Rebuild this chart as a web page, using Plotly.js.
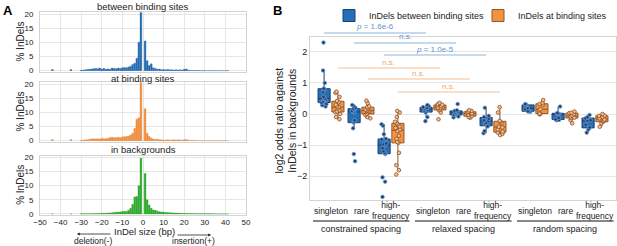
<!DOCTYPE html>
<html><head><meta charset="utf-8">
<script src="https://cdn.plot.ly/plotly-3.0.1.min.js"></script>
<style>html,body{margin:0;padding:0;background:#fff}#chart{width:617px;height:246px}</style>
</head><body><div id="chart"></div>
<script>
// ---------------- Panel A data ----------------
const indelSizes = [-44,-35,
  -30,-29,-28,-27,-26,-25,-24,-23,-22,-21,
  -20,-19,-18,-17,-16,-15,-14,-13,-12,-11,
  -10,-9,-8,-7,-6,-5,-4,-3,-2,-1,
  1,2,3,4,5,6,7,8,9,10,
  11,12,13,14,15,16,17,18,19,20,
  21,22,23,24,25,26,27,28,29,30,
  31,32,33,34,35,36,37,38,39,40,41];
const pctBetween = [0.4,0.4,
  0.15,0.2,0.3,0.4,0.5,0.6,0.7,0.8,0.7,0.9,
  0.6,0.8,0.5,0.6,0.5,0.9,0.8,0.7,0.9,0.8,
  1.0,1.1,1.0,1.3,1.6,2.2,2.6,4.4,10.0,20.6,
  10.5,3.5,1.8,2.4,1.0,0.8,0.5,0.6,0.3,0.4,
  0.3,0.4,0.3,0.3,0.2,0.3,0.2,0.3,0.2,0.5,
  0.6,0.2,0.1,0.1,0.05,0.05,0.05,0,0.05,0,
  0,0,0,0,0,0,0,0,0,0,0.1];
const pctAtSites = [0.4,0.4,
  0.1,0.2,0.3,0.3,0.5,0.6,0.7,0.6,0.7,0.6,
  0.8,0.7,0.7,0.8,1.1,1.2,1.0,1.1,1.2,1.0,
  1.3,1.4,1.5,1.6,2.0,2.6,4.3,7.6,8.1,20.6,
  11.3,2.6,1.5,0.9,0.6,0.4,0.5,0.3,0.3,0.2,
  0.2,0.3,0.2,0.2,0.3,0.2,0.3,0.2,0.2,0.3,
  0.4,0.2,0.1,0.1,0.05,0.05,0,0,0,0,
  0,0,0,0,0,0,0,0,0,0,0];
const pctBackground = [0,0,
  0.05,0.05,0.06,0.07,0.08,0.1,0.12,0.14,0.16,0.2,
  0.22,0.25,0.28,0.3,0.35,0.4,0.5,0.6,0.7,0.7,
  0.9,1.0,0.9,1.3,2.0,3.4,6.0,6.2,10.0,19.7,
  14.3,5.0,3.2,2.0,1.4,1.3,1.0,0.8,0.7,0.7,
  0.5,0.5,0.4,0.4,0.35,0.3,0.3,0.25,0.2,0.2,
  0.2,0.18,0.15,0.15,0.12,0.1,0.1,0.08,0.08,0.07,
  0.06,0.05,0.05,0.04,0.03,0.03,0.02,0.02,0.02,0.01,0.01];
const panelATitles = ['between binding sites','at binding sites','in backgrounds'];
const sizeTicks = [-50,-40,-30,-20,-10,0,10,20,30,40,50];
const pctTicks = [0,5,10,15,20];

// ---------------- Panel B data ----------------
const frequencyClasses = ['singleton','rare','high-<br>frequency'];
const spacingGroups = ['constrained spacing','relaxed spacing','random spacing'];
const seriesNames = ['InDels between binding sites','InDels at binding sites'];
const oddsTicks = [-2,-1,0,1,2];
// one list per (spacing group, frequency class), in order
const betweenRatios = [
  [2.3,1.4,1.0,0.82,0.8,0.7,0.55,0.5,0.48,0.45,0.4,0.36,0.32,0.28,0.24],
  [0.29,0.25,0.2,0.17,0.14,0.1,0.08,0.05,-0.2,-0.25,-0.28,-0.46,-1.29,-1.52],
  [-0.33,-0.38,-0.65,-0.8,-0.82,-0.95,-0.98,-1.0,-1.1,-1.2,-1.25,-1.29,-2.04,-2.18,-2.67],
  [0.29,0.25,0.22,0.2,0.18,0.15,0.12,0.1,0.05,-0.1,-0.23],
  [0.32,0.12,0.1,0.08,0.05,0.03,0.0,-0.03,-0.08,-0.11],
  [0.2,-0.06,-0.1,-0.15,-0.2,-0.23,-0.28,-0.32,-0.4,-0.55,-0.62],
  [0.32,0.3,0.29,0.25,0.19,0.15,0.09,0.08,0.07],
  [0.24,0.03,0.02,0.01,0.0,-0.12,-0.17,-0.19,-0.2],
  [-0.03,-0.1,-0.14,-0.2,-0.22,-0.35,-0.43,-0.5,-0.6]
];
const atSitesRatios = [
  [0.72,0.68,0.55,0.42,0.38,0.3,0.25,0.22,0.18,0.12,0.08,0.06,0.0,-0.1,-0.17],
  [0.43,0.35,0.25,0.22,0.18,0.14,0.12,0.1,0.08,0.05,0.0,-0.03,-0.1,-0.14],
  [0.1,0.05,-0.1,-0.25,-0.3,-0.33,-0.4,-0.45,-0.5,-0.55,-0.7,-0.8,-0.9,-0.93,-1.25,-1.65,-1.81,-1.95],
  [0.36,0.32,0.3,0.28,0.25,0.22,0.2,0.18,0.14,0.12,0.05,-0.17],
  [0.12,0.1,0.07,0.05,0.02,0.0,-0.03,-0.07,-0.1,-0.12],
  [0.22,0.05,-0.22,-0.25,-0.3,-0.41,-0.43,-0.5,-0.57,-0.6,-0.68,-0.64],
  [0.45,0.36,0.32,0.3,0.15,0.12,0.02,0.0,-0.01],
  [0.08,0.04,0.03,0.0,-0.05,-0.08,-0.12,-0.13,-0.2,-0.3],
  [0.0,-0.05,-0.06,-0.1,-0.14,-0.18,-0.22,-0.25,-0.3,-0.41]
];
// significance comparisons: series index, from box index, to box index, label
const comparisonSeries = [0,0,0,1,1,1];
const comparisonFrom = [0,1,2,0,1,2];
const comparisonTo = [3,4,5,3,4,5];
const comparisonLabels = ['<i>p</i> = 1.6e-6','n.s.','<i>p</i> = 1.0e-5','n.s.','n.s.','n.s.'];

// ---------------- layout helpers ----------------
const W = 617, H = 246;
const FONT = 'Liberation Sans, Arial, Helvetica, sans-serif';
const px = v => v / W;
const py = v => 1 - v / H;
const groupStep = 3.4;   // spacing between spacing groups (in category units)
const boxGap = 0.08, boxGroupGap = 0.12;
const offset = 0.5 * (1 - boxGap) / 2;
const catPos = [];
spacingGroups.forEach((g, gi) => frequencyClasses.forEach((c, ci) => catPos.push(gi * groupStep + ci)));

const blue = '#2470b8', orange = '#f5923e', green = '#2fb02f';
const gridC = '#e6e6e6', frameC = '#d4d4d4', textC = '#222';

const traces = [];
const histSeries = [pctBetween, pctAtSites, pctBackground];
const histColors = [blue, orange, green];
const histLines = ['#1c5a99', '#d9782a', '#23911f'];
histSeries.forEach((vals, i) => {
  traces.push({
    type: 'bar', x: indelSizes, y: vals,
    xaxis: i === 0 ? 'x' : 'x' + (i + 1), yaxis: i === 0 ? 'y' : 'y' + (i + 1),
    marker: {color: histColors[i], line: {color: histLines[i], width: 0.3}},
    showlegend: false, hoverinfo: 'skip'
  });
});

function boxTrace(groups, name, fill, lineC, mFill, mLine, legendId) {
  const x = [], y = [];
  groups.forEach((arr, i) => arr.forEach(v => { x.push(catPos[i]); y.push(v); }));
  return {
    type: 'box', x, y, name, xaxis: 'x4', yaxis: 'y4', legend: legendId,
    fillcolor: fill, line: {color: lineC, width: 1},
    marker: {color: mFill, size: 3.6, line: {color: mLine, width: 0.8}},
    boxpoints: 'all', jitter: 0.5, pointpos: 0, whiskerwidth: 0,
    hoverinfo: 'skip'
  };
}
traces.push(boxTrace(betweenRatios, seriesNames[0], blue, '#1d3f6e', '#1d3f6e', '#6d9bd0', 'legend'));
traces.push(boxTrace(atSitesRatios, seriesNames[1], orange, '#8a5a35', '#f7c090', '#8a4f22', 'legend2'));

// panel A geometry (px)
const aLeft = 40, aRight = 246;
const aPanels = [[12.3, 71.8], [82.3, 141.8], [155.6, 215.1]];
const aTitleY = [7, 78, 149];

const axBase = {
  showgrid: true, gridcolor: gridC, gridwidth: 1, zeroline: false,
  showline: true, linecolor: frameC, linewidth: 1, mirror: true,
  ticks: '', tickfont: {size: 8, color: textC, family: FONT}
};
const legendBase = {orientation: 'h', y: py(1), xanchor: 'left', yanchor: 'top',
  font: {size: 9, family: FONT, color: textC}, bgcolor: 'rgba(0,0,0,0)', itemwidth: 30};

const layout = {
  width: W, height: H, margin: {l: 0, r: 0, t: 0, b: 0, autoexpand: false},
  paper_bgcolor: '#fff', plot_bgcolor: '#fff',
  font: {family: FONT, color: textC},
  bargap: 0.12, boxmode: 'group', boxgap: boxGap, boxgroupgap: boxGroupGap,
  showlegend: true,
  legend: Object.assign({}, legendBase, {x: px(329)}),
  legend2: Object.assign({}, legendBase, {x: px(478)}),
  annotations: [], shapes: []
};

aPanels.forEach((p, i) => {
  const sx = i === 0 ? '' : String(i + 1);
  layout['xaxis' + sx] = Object.assign({}, axBase, {
    domain: [px(aLeft), px(aRight)], range: [-50, 50], anchor: 'y' + sx,
    tickvals: sizeTicks, showticklabels: i === 2, tickangle: 0, ticklabelstandoff: -1
  });
  layout['yaxis' + sx] = Object.assign({}, axBase, {
    domain: [py(p[1]), py(p[0])], range: [-0.4, 20.6], anchor: 'x' + sx,
    tickvals: pctTicks, ticklabelstandoff: 4
  });
  layout.annotations.push({text: panelATitles[i], xref: 'paper', yref: 'paper',
    x: px((aLeft + aRight) / 2), y: py(aTitleY[i]), xanchor: 'center', yanchor: 'middle',
    showarrow: false, font: {size: 9.5, family: FONT, color: textC}});
  layout.annotations.push({text: '% InDels', xref: 'paper', yref: 'paper', textangle: -90,
    x: px(20.5), y: py((p[0] + p[1]) / 2), xanchor: 'center', yanchor: 'middle',
    showarrow: false, font: {size: 10, family: FONT, color: textC}});
});

// panel A x-axis label + arrows
layout.annotations.push(
  {text: 'InDel size (bp)', xref: 'paper', yref: 'paper', x: px(144.5), y: py(231.5),
   xanchor: 'center', yanchor: 'middle', showarrow: false, font: {size: 9.5, family: FONT, color: textC}},
  {text: 'deletion(-)', xref: 'paper', yref: 'paper', x: px(93), y: py(240.8),
   xanchor: 'center', yanchor: 'middle', showarrow: false, font: {size: 8.5, family: FONT, color: textC}},
  {text: 'insertion(+)', xref: 'paper', yref: 'paper', x: px(193), y: py(240.8),
   xanchor: 'center', yanchor: 'middle', showarrow: false, font: {size: 8.5, family: FONT, color: textC}},
  {text: '', xref: 'paper', yref: 'paper', x: px(77), y: py(234), ax: 35, ay: 0,
   showarrow: true, arrowhead: 2, arrowsize: 0.7, arrowwidth: 0.8, arrowcolor: '#222'},
  {text: '', xref: 'paper', yref: 'paper', x: px(211), y: py(235), ax: -35, ay: 0,
   showarrow: true, arrowhead: 2, arrowsize: 0.7, arrowwidth: 0.8, arrowcolor: '#222'},
  {text: '<b>A</b>', xref: 'paper', yref: 'paper', x: px(1), y: py(10), xanchor: 'left', yanchor: 'middle',
   showarrow: false, font: {size: 13, family: FONT, color: '#000'}},
  {text: '<b>B</b>', xref: 'paper', yref: 'paper', x: px(271), y: py(10), xanchor: 'left', yanchor: 'middle',
   showarrow: false, font: {size: 13, family: FONT, color: '#000'}}
);

// panel B axes
const bLeft = 310, bRight = 616, bTop = 37, bBottom = 200;
layout.xaxis4 = Object.assign({}, axBase, {
  domain: [px(bLeft), px(bRight)], range: [-0.7, 9.5], anchor: 'y4',
  showgrid: false, showticklabels: false, tickvals: catPos
});
layout.yaxis4 = Object.assign({}, axBase, {
  domain: [py(bBottom), py(bTop)], range: [-2.77, 2.48], anchor: 'x4',
  tickvals: oddsTicks, tickfont: {size: 9, color: textC, family: FONT}
});
layout.annotations.push({text: 'log2 odds ratio against<br>InDels in backgrounds',
  xref: 'paper', yref: 'paper', textangle: -90, x: px(286), y: py((bTop + bBottom) / 2 + 2),
  xanchor: 'center', yanchor: 'middle', showarrow: false,
  font: {size: 10.5, family: FONT, color: textC}});

// category labels and group brackets
catPos.forEach((p, i) => {
  layout.annotations.push({text: frequencyClasses[i % 3], xref: 'x4', yref: 'paper',
    x: p, y: py(210.5), xanchor: 'center', yanchor: 'middle', showarrow: false,
    font: {size: 8.5, family: FONT, color: textC}});
});
spacingGroups.forEach((g, gi) => {
  const first = catPos[gi * 3], last = catPos[gi * 3 + 2];
  layout.shapes.push({type: 'line', xref: 'x4', yref: 'paper', x0: first - 0.6, x1: last + 0.62,
    y0: py(221), y1: py(221), line: {color: '#111', width: 1}});
  layout.annotations.push({text: g, xref: 'x4', yref: 'paper', x: (first + last) / 2, y: py(229),
    xanchor: 'center', yanchor: 'middle', showarrow: false, font: {size: 9, family: FONT, color: textC}});
});

// significance lines
const sigY = [33, 43, 55, 68, 79, 92];
const sigColors = ['#8db4df', '#f7bd8f'];
const sigText = ['#5f93cc', '#f0a468'];
comparisonLabels.forEach((lab, k) => {
  const s = comparisonSeries[k];
  const off = s === 0 ? -offset : offset;
  const x0 = catPos[comparisonFrom[k]] + off, x1 = catPos[comparisonTo[k]] + off;
  layout.shapes.push({type: 'line', xref: 'x4', yref: 'paper', x0, x1,
    y0: py(sigY[k]), y1: py(sigY[k]), line: {color: sigColors[s], width: 1}});
  layout.annotations.push({text: lab, xref: 'x4', yref: 'paper', x: (x0 + x1) / 2, y: py(sigY[k] - 0.5),
    xanchor: 'center', yanchor: 'bottom', showarrow: false, borderpad: 0,
    font: {size: 8, family: FONT, color: sigText[s]}});
});

Plotly.newPlot('chart', traces, layout, {displayModeBar: false, staticPlot: true});
</script>
</body></html>
